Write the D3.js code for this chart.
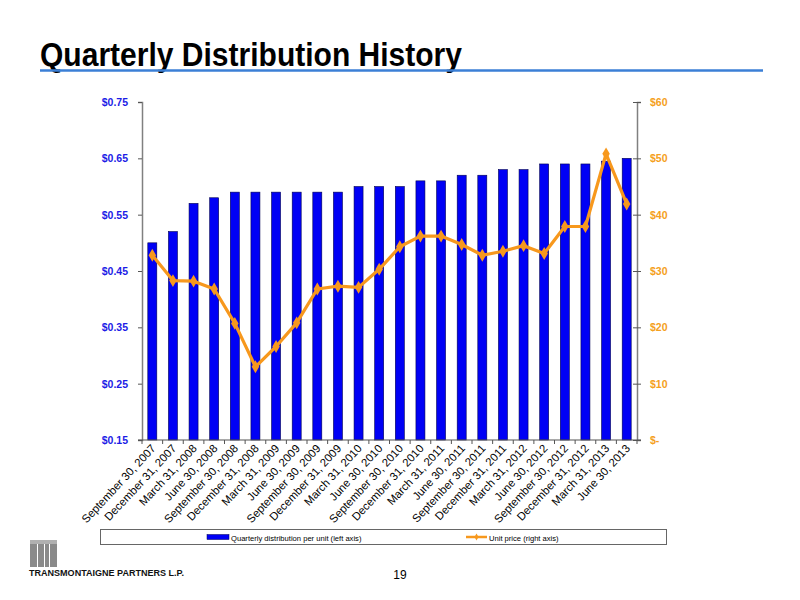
<!DOCTYPE html>
<html><head><meta charset="utf-8">
<script src="https://cdn.jsdelivr.net/npm/d3@7"></script>
<style>body{margin:0;background:#fff;} svg{display:block;}</style>
</head><body>
<svg id="c" width="800" height="600"></svg>
<script>
const categories = ["September 30, 2007","December 31, 2007","March 31, 2008","June 30, 2008","September 30, 2008","December 31, 2008","March 31, 2009","June 30, 2009","September 30, 2009","December 31, 2009","March 31, 2010","June 30, 2010","September 30, 2010","December 31, 2010","March 31, 2011","June 30, 2011","September 30, 2011","December 31, 2011","March 31, 2012","June 30, 2012","September 30, 2012","December 31, 2012","March 31, 2013","June 30, 2013"];
const distribution = [0.50,0.52,0.57,0.58,0.59,0.59,0.59,0.59,0.59,0.59,0.60,0.60,0.60,0.61,0.61,0.62,0.62,0.63,0.63,0.64,0.64,0.64,0.645,0.65];
const unitPrice = [32.8,28.3,28.2,26.8,20.7,13.0,16.6,20.8,26.8,27.3,27.1,30.3,34.3,36.2,36.2,34.7,32.8,33.5,34.5,33.1,37.9,37.9,50.8,41.9];
const leftTicks = [0.15,0.25,0.35,0.45,0.55,0.65,0.75];
const rightTicks = [0,10,20,30,40,50,60];

const svg = d3.select("#c");
const L = 142, R = 637, T = 102, B = 440;
const xb = d3.scaleBand().domain(categories).range([L, R]);
const yL = d3.scaleLinear().domain([0.15, 0.75]).range([B, T]);
const yR = d3.scaleLinear().domain([0, 60]).range([B, T]);
const font = "'Liberation Sans', Arial, sans-serif";

// Title
svg.append("text").attr("x", 40).attr("y", 66).text("Quarterly Distribution History")
  .attr("font-family", "'Liberation Sans Narrow','Arial Narrow','Liberation Sans',Arial,sans-serif")
  .attr("font-weight", "bold").attr("font-size", 33).attr("fill", "#000")
  .attr("textLength", 422).attr("lengthAdjust", "spacingAndGlyphs");
svg.append("line").attr("x1", 40).attr("x2", 763).attr("y1", 70.5).attr("y2", 70.5)
  .attr("stroke", "#3b7fd6").attr("stroke-width", 2.5);

// Bars
svg.append("g").selectAll("rect").data(distribution).join("rect")
  .attr("x", (d, i) => xb(categories[i]) + xb.bandwidth() / 2 - 4.5)
  .attr("width", 9)
  .attr("y", d => yL(d))
  .attr("height", d => B - yL(d))
  .attr("fill", "#0000f5").attr("stroke", "#000050").attr("stroke-width", 0.6);

// Left axis
const gl = svg.append("g").attr("transform", `translate(${L},0)`)
  .call(d3.axisLeft(yL).tickValues(leftTicks).tickSize(4).tickPadding(10).tickFormat(d => "$" + d.toFixed(2)));
gl.select(".domain").attr("stroke", "#808080").attr("stroke-width", 1.5);
gl.selectAll(".tick line").attr("stroke", "#555");
gl.selectAll(".tick text").attr("fill", "#1c1ce6").attr("font-family", font).attr("font-weight", "bold").attr("font-size", 10.5);

// Right axis
const gr = svg.append("g").attr("transform", `translate(${R},0)`)
  .call(d3.axisRight(yR).tickValues(rightTicks).tickSize(4).tickPadding(9).tickFormat(d => d === 0 ? "$-" : "$" + d));
gr.select(".domain").attr("stroke", "#808080").attr("stroke-width", 1.5);
gr.selectAll(".tick line").attr("stroke", "#555").attr("x1", -4);
gr.selectAll(".tick text").attr("fill", "#f5a020").attr("font-family", font).attr("font-weight", "bold").attr("font-size", 10.5);

// Bottom axis
const gb = svg.append("g").attr("transform", `translate(0,${B})`);
gb.append("line").attr("x1", L - 4).attr("x2", R + 4).attr("y1", 0).attr("y2", 0).attr("stroke", "#555").attr("stroke-width", 1.2);
gb.selectAll("line.t").data(d3.range(categories.length + 1)).join("line").attr("class", "t")
  .attr("x1", i => L + i * xb.step()).attr("x2", i => L + i * xb.step())
  .attr("y1", 0).attr("y2", 4).attr("stroke", "#555");
gb.selectAll("text").data(categories).join("text")
  .attr("transform", d => `translate(${xb(d) + xb.bandwidth() / 2 + 4},${9}) rotate(-47)`)
  .attr("text-anchor", "end").attr("font-family", font).attr("font-size", 11.3).attr("fill", "#000")
  .text(d => d);

// Line
const line = d3.line().x((d, i) => xb(categories[i]) + xb.bandwidth() / 2).y(d => yR(d));
svg.append("path").datum(unitPrice).attr("d", line).attr("fill", "none")
  .attr("stroke", "#f7981d").attr("stroke-width", 3.2).attr("stroke-linejoin", "round");
svg.append("g").selectAll("path").data(unitPrice).join("path")
  .attr("d", d3.symbol(d3.symbolDiamond, 48))
  .attr("transform", (d, i) => `translate(${xb(categories[i]) + xb.bandwidth() / 2},${yR(d)})`)
  .attr("fill", "#f7981d");

// Legend
const lg = svg.append("g");
lg.append("rect").attr("x", 100.5).attr("y", 529.5).attr("width", 566).attr("height", 15)
  .attr("fill", "#fff").attr("stroke", "#666").attr("stroke-width", 1);
lg.append("rect").attr("x", 207).attr("y", 534.5).attr("width", 22).attr("height", 5)
  .attr("fill", "#0000f5").attr("stroke", "#000050").attr("stroke-width", 0.5);
lg.append("text").attr("x", 231).attr("y", 540.5).text("Quarterly distribution per unit (left axis)")
  .attr("font-family", font).attr("font-size", 7.6).attr("fill", "#000");
lg.append("line").attr("x1", 466).attr("x2", 487).attr("y1", 537).attr("y2", 537).attr("stroke", "#f7981d").attr("stroke-width", 2.5);
lg.append("path").attr("d", d3.symbol(d3.symbolDiamond, 14)).attr("transform", "translate(476.5,537)").attr("fill", "#f7981d");
lg.append("text").attr("x", 489).attr("y", 540.5).text("Unit price (right axis)")
  .attr("font-family", font).attr("font-size", 7.6).attr("fill", "#000");

// Logo
const logo = svg.append("g").attr("transform", "translate(30,540)");
[[0,3,7,24],[8,3,6,24],[15,0,4,27],[20,3,7,24]].forEach(r => {
  logo.append("rect").attr("x", r[0]).attr("y", r[1]).attr("width", r[2]).attr("height", r[3]).attr("fill", "#8a8a8a");
});
logo.append("rect").attr("x", 0).attr("y", 0).attr("width", 27).attr("height", 4).attr("fill", "#b0b0b0");
svg.append("text").attr("x", 29).attr("y", 576).text("TRANSMONTAIGNE PARTNERS L.P.")
  .attr("font-family", font).attr("font-weight", "bold").attr("font-size", 8.8).attr("fill", "#111")
  .attr("textLength", 155).attr("lengthAdjust", "spacingAndGlyphs");
svg.append("text").attr("x", 400).attr("y", 579).attr("text-anchor", "middle").text("19")
  .attr("font-family", "'Liberation Sans Narrow','Liberation Sans',Arial,sans-serif").attr("font-size", 12).attr("fill", "#000");
</script>
</body></html>
